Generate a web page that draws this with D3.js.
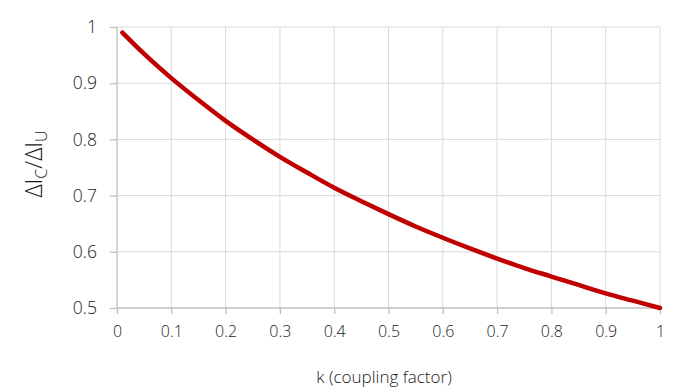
<!DOCTYPE html>
<html>
<head>
<meta charset="utf-8">
<script src="https://cdn.jsdelivr.net/npm/d3@7"></script>
<style>
  body { margin: 0; background: #fff; }
  text { font-family: "Open Sans", sans-serif; fill: #1a1a1a; }
</style>
</head>
<body>
<svg width="693" height="391"></svg>
<script>
// values
var kValues = [0.01, 0.05, 0.1, 0.15, 0.2, 0.25, 0.3, 0.35, 0.4, 0.45, 0.5,
               0.55, 0.6, 0.65, 0.7, 0.75, 0.8, 0.85, 0.9, 0.95, 1.0];
var ratioValues = [0.99, 0.952, 0.909, 0.87, 0.833, 0.8, 0.769, 0.741, 0.714, 0.69, 0.667,
                   0.645, 0.625, 0.606, 0.588, 0.571, 0.556, 0.541, 0.526, 0.513, 0.5];
var xTicks = [0, 0.1, 0.2, 0.3, 0.4, 0.5, 0.6, 0.7, 0.8, 0.9, 1];
var yTicks = [0.5, 0.6, 0.7, 0.8, 0.9, 1];

var svg = d3.select("svg");
var plotLeft = 117, plotRight = 660, plotTop = 27, plotBottom = 308;

var x = d3.scaleLinear().domain([0, 1]).range([plotLeft, plotRight]);
var y = d3.scaleLinear().domain([0.5, 1]).range([plotBottom, plotTop]);

// grid
svg.append("g").selectAll("line")
    .data(xTicks.slice(1))
    .enter().append("line")
    .attr("x1", function(d){ return x(d); })
    .attr("x2", function(d){ return x(d); })
    .attr("y1", plotTop)
    .attr("y2", plotBottom)
    .style("stroke", "#d9d9d9")
    .style("stroke-width", 1);
svg.append("g").selectAll("line")
    .data(yTicks.slice(1))
    .enter().append("line")
    .attr("x1", plotLeft)
    .attr("x2", plotRight)
    .attr("y1", function(d){ return y(d); })
    .attr("y2", function(d){ return y(d); })
    .style("stroke", "#d9d9d9")
    .style("stroke-width", 1);

var fmt = function(d){ return d3.format("")(d); };

var xAxis = svg.append("g")
    .attr("transform", "translate(0," + plotBottom + ")")
    .call(d3.axisBottom(x).tickValues(xTicks).tickFormat(fmt).tickSize(6).tickPadding(12));
var yAxis = svg.append("g")
    .attr("transform", "translate(" + plotLeft + ",0)")
    .call(d3.axisLeft(y).tickValues(yTicks).tickFormat(fmt).tickSize(7).tickPadding(13));

[xAxis, yAxis].forEach(function(a){
    a.select(".domain").style("stroke", "#bfbfbf").attr("stroke-width", 1.3);
    a.selectAll(".tick line").style("stroke", "#bfbfbf").attr("stroke-width", 1.3);
    a.selectAll(".tick text")
        .style("font-family", "'Open Sans', sans-serif")
        .style("font-weight", 300)
        .style("fill", "#1a1a1a");
});
xAxis.selectAll(".tick text").style("font-size", "16px");
yAxis.selectAll(".tick text").style("font-size", "17.5px");
yAxis.select(".domain").attr("d", "M0," + plotTop + "V" + plotBottom);
xAxis.select(".domain").attr("d", "M" + plotLeft + ",0H" + plotRight);

// curve
var line = d3.line()
    .x(function(d, i){ return x(kValues[i]); })
    .y(function(d){ return y(d); })
    .curve(d3.curveMonotoneX);
svg.append("path")
    .datum(ratioValues)
    .attr("d", line)
    .style("fill", "none")
    .style("stroke", "#c00000")
    .style("stroke-width", 4.5)
    .style("stroke-linecap", "round");

// axis titles
svg.append("text")
    .attr("x", 384)
    .attr("y", 383)
    .attr("text-anchor", "middle")
    .style("font-size", "17px")
    .style("font-weight", 300)
    .text("k (coupling factor)");

var yt = svg.append("text")
    .attr("transform", "translate(42,164) rotate(-90)")
    .attr("text-anchor", "middle")
    .style("font-size", "23px")
    .style("font-weight", 300);
yt.append("tspan").text("ΔI");
yt.append("tspan").attr("dy", 5).style("font-size", "16px").text("C");
yt.append("tspan").attr("dy", -5).text("/ΔI");
yt.append("tspan").attr("dy", 5).style("font-size", "16px").text("U");
</script>
</body>
</html>
